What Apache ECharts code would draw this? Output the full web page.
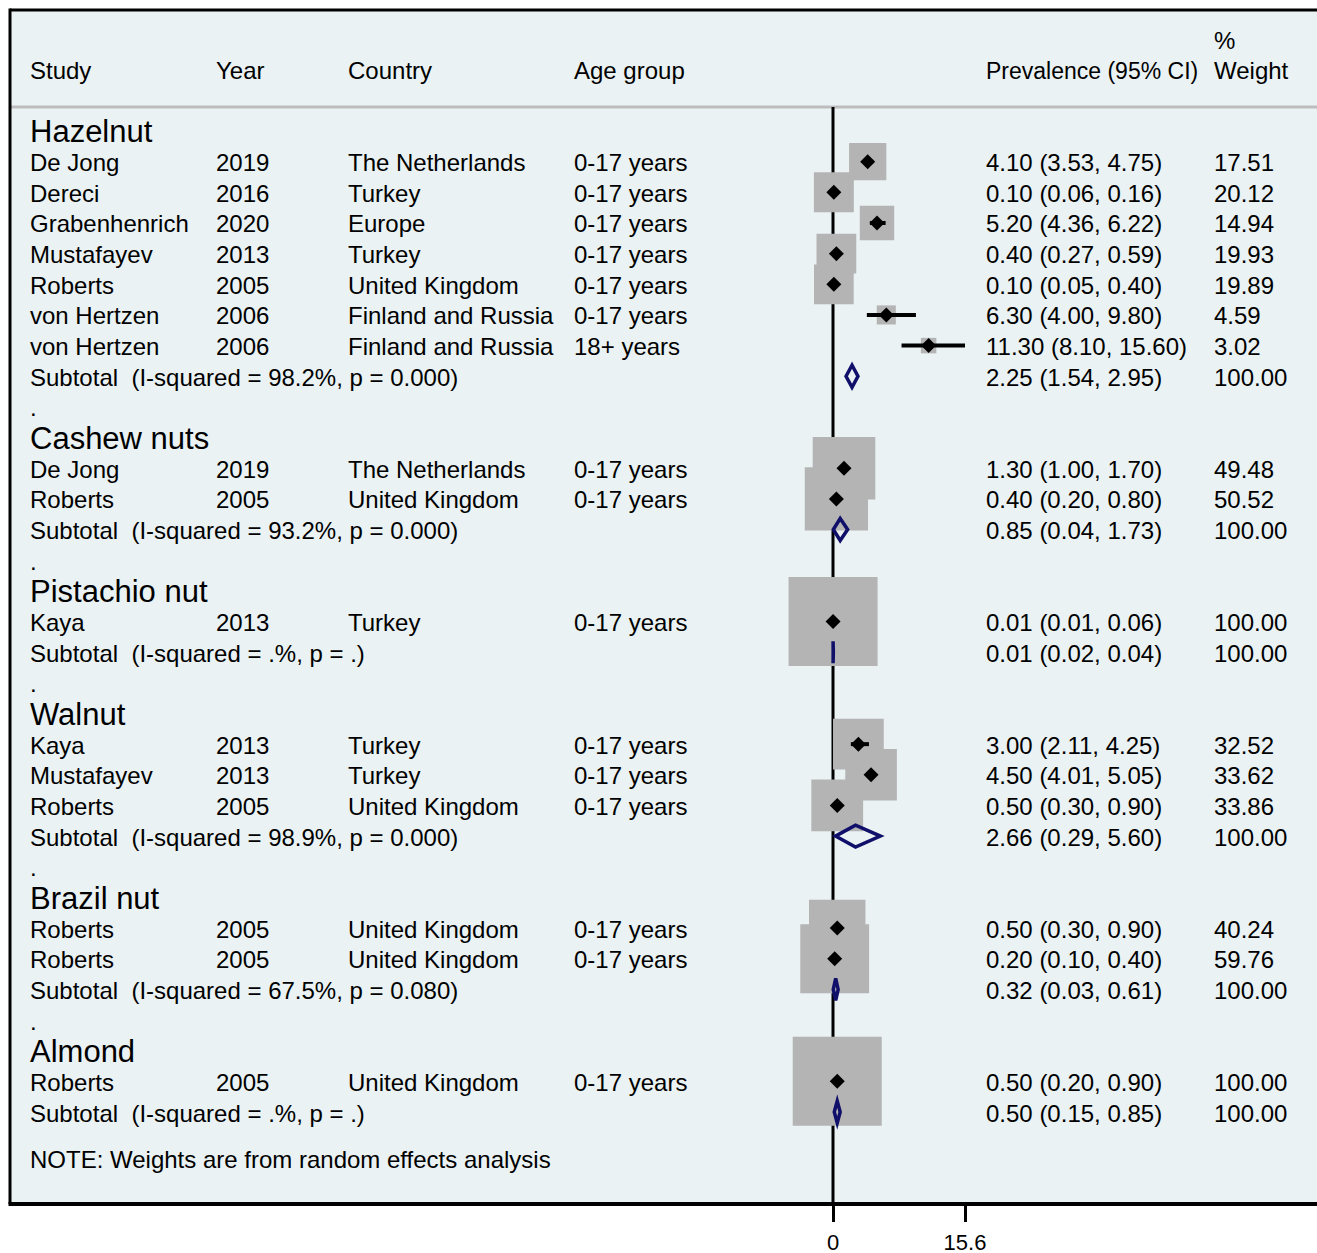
<!DOCTYPE html>
<html><head><meta charset="utf-8">
<script src="https://cdn.jsdelivr.net/npm/echarts@6/dist/echarts.min.js"></script>
<style>html,body{margin:0;padding:0;background:#fff}#chart{width:1317px;height:1253px}</style>
</head><body><div id="chart"></div>
<script>
// ---------- data ----------
const groupNames = ['Hazelnut', 'Cashew nuts', 'Pistachio nut', 'Walnut', 'Brazil nut', 'Almond'];
const studyNames = ['De Jong', 'Dereci', 'Grabenhenrich', 'Mustafayev', 'Roberts', 'von Hertzen', 'von Hertzen',
  'De Jong', 'Roberts', 'Kaya', 'Kaya', 'Mustafayev', 'Roberts', 'Roberts', 'Roberts', 'Roberts'];
const studyGroup = [0, 0, 0, 0, 0, 0, 0, 1, 1, 2, 3, 3, 3, 4, 4, 5];
const studyYears = ['2019', '2016', '2020', '2013', '2005', '2006', '2006', '2019', '2005', '2013', '2013', '2013', '2005', '2005', '2005', '2005'];
const studyCountries = ['The Netherlands', 'Turkey', 'Europe', 'Turkey', 'United Kingdom', 'Finland and Russia', 'Finland and Russia',
  'The Netherlands', 'United Kingdom', 'Turkey', 'Turkey', 'Turkey', 'United Kingdom', 'United Kingdom', 'United Kingdom', 'United Kingdom'];
const studyAges = ['0-17 years', '0-17 years', '0-17 years', '0-17 years', '0-17 years', '0-17 years', '18+ years',
  '0-17 years', '0-17 years', '0-17 years', '0-17 years', '0-17 years', '0-17 years', '0-17 years', '0-17 years', '0-17 years'];
const estimates = [4.10, 0.10, 5.20, 0.40, 0.10, 6.30, 11.30, 1.30, 0.40, 0.01, 3.00, 4.50, 0.50, 0.50, 0.20, 0.50];
const lowerCI = [3.53, 0.06, 4.36, 0.27, 0.05, 4.00, 8.10, 1.00, 0.20, 0.01, 2.11, 4.01, 0.30, 0.30, 0.10, 0.20];
const upperCI = [4.75, 0.16, 6.22, 0.59, 0.40, 9.80, 15.60, 1.70, 0.80, 0.06, 4.25, 5.05, 0.90, 0.90, 0.40, 0.90];
const weights = [17.51, 20.12, 14.94, 19.93, 19.89, 4.59, 3.02, 49.48, 50.52, 100.00, 32.52, 33.62, 33.86, 40.24, 59.76, 100.00];

const subEst = [2.25, 0.85, 0.01, 2.66, 0.32, 0.50];
const subLower = [1.54, 0.04, 0.02, 0.29, 0.03, 0.15];
const subUpper = [2.95, 1.73, 0.04, 5.60, 0.61, 0.85];
const subISquared = ['98.2%', '93.2%', '.%', '98.9%', '67.5%', '.%'];
const subP = ['0.000', '0.000', '.', '0.000', '0.080', '.'];
const subWeights = ['100.00', '100.00', '100.00', '100.00', '100.00', '100.00'];

const headerLabels = ['Study', 'Year', 'Country', 'Age group', 'Prevalence (95% CI)', 'Weight'];
const noteText = 'NOTE: Weights are from random effects analysis';
const xTickValues = [0, 15.6];

// ---------- layout (rows) ----------
const studyRows = [], subRows = [], headRows = [], dotRows = [];
let r = 0;
groupNames.forEach((g, gi) => {
  headRows.push(r); r++;
  studyGroup.forEach((sg, i) => { if (sg === gi) { studyRows[i] = r; r++; } });
  subRows.push(r); r++;
  if (gi < groupNames.length - 1) { dotRows.push(r); r++; }
});
const noteRow = r + 0.5;

const COLX = [30, 216, 348, 574, 986, 1214];
const FONT = '"Liberation Sans", Arial, Helvetica, sans-serif';
const FS = 24, FS_GROUP = 31;
const fmt = v => v.toFixed(2);

const textItems = [];
headerLabels.forEach((t, c) => textItems.push({ row: -2, x: COLX[c], text: t, size: c === 4 ? 23 : FS }));
textItems.push({ row: -3, x: COLX[5], text: '%', size: FS });
groupNames.forEach((g, gi) => textItems.push({ row: headRows[gi], x: COLX[0], text: g, size: FS_GROUP }));
studyNames.forEach((s, i) => {
  const row = studyRows[i];
  textItems.push({ row, x: COLX[0], text: s, size: FS });
  textItems.push({ row, x: COLX[1], text: studyYears[i], size: FS });
  textItems.push({ row, x: COLX[2], text: studyCountries[i], size: FS });
  textItems.push({ row, x: COLX[3], text: studyAges[i], size: FS });
  textItems.push({ row, x: COLX[4], text: fmt(estimates[i]) + ' (' + fmt(lowerCI[i]) + ', ' + fmt(upperCI[i]) + ')', size: FS });
  textItems.push({ row, x: COLX[5], text: fmt(weights[i]), size: FS });
});
groupNames.forEach((g, gi) => {
  const row = subRows[gi];
  textItems.push({ row, x: COLX[0], text: 'Subtotal\u00a0 (I-squared = ' + subISquared[gi] + ', p = ' + subP[gi] + ')', size: FS });
  textItems.push({ row, x: COLX[4], text: fmt(subEst[gi]) + ' (' + fmt(subLower[gi]) + ', ' + fmt(subUpper[gi]) + ')', size: FS });
  textItems.push({ row, x: COLX[5], text: subWeights[gi], size: FS });
});
dotRows.forEach(row => textItems.push({ row, x: COLX[0], text: '.', size: FS }));
textItems.push({ row: noteRow, x: COLX[0], text: noteText, size: FS });

// ---------- chart ----------
const chart = echarts.init(document.getElementById('chart'), null, { renderer: 'svg' });
const BG = '#eaf2f3';
const option = {
  animation: false,
  backgroundColor: '#ffffff',
  graphic: [
    { type: 'rect', shape: { x: 10, y: 10, width: 1330, height: 1194 }, style: { fill: BG }, z: -10, silent: true },
    { type: 'line', shape: { x1: 10, y1: 107, x2: 1340, y2: 107 }, style: { stroke: '#bdbdbd', lineWidth: 3 }, z: -5, silent: true },
    { type: 'line', shape: { x1: 10, y1: 10, x2: 1340, y2: 10 }, style: { stroke: '#000', lineWidth: 3 }, z: -5, silent: true },
    { type: 'line', shape: { x1: 10, y1: 8.5, x2: 10, y2: 1204 }, style: { stroke: '#000', lineWidth: 3 }, z: -5, silent: true },
    { type: 'line', shape: { x1: 8.5, y1: 1204, x2: 1340, y2: 1204 }, style: { stroke: '#000', lineWidth: 4 }, z: -5, silent: true }
  ],
  grid: { left: 833, width: 132, top: 100.34, height: 1103.66, containLabel: false },
  xAxis: {
    type: 'value', min: 0, max: 15.6, interval: 15.6, position: 'bottom',
    axisLine: { show: true, onZero: false, lineStyle: { color: '#000', width: 4 } },
    axisTick: { show: true, length: 18, lineStyle: { color: '#000', width: 3 } },
    axisLabel: { show: true, margin: 27, color: '#000', fontSize: 22, fontFamily: FONT,
      formatter: v => (Math.abs(v) < 1e-9 ? '0' : String(Math.round(v * 10) / 10)) },
    splitLine: { show: false }
  },
  yAxis: { type: 'value', inverse: true, min: -1, max: 35, show: false, splitLine: { show: false },
    axisLine: { onZero: false } },
  series: [
    { // reference line at 0
      type: 'custom', z: 1, clip: false, silent: true,
      data: [[0, 35]],
      renderItem: (params, api) => {
        const p1 = api.coord([0, -0.78]);
        const p2 = api.coord([0, 35]);
        return { type: 'line', shape: { x1: p1[0], y1: p1[1], x2: p2[0], y2: p2[1] }, style: { stroke: '#000', lineWidth: 3 } };
      }
    },
    { // weight boxes
      type: 'scatter', z: 2, clip: false, silent: true,
      symbol: 'rect',
      symbolSize: v => 8.9 * Math.sqrt(v[2]),
      itemStyle: { color: '#b4b4b4', opacity: 1 },
      data: estimates.map((e, i) => [e, studyRows[i], weights[i]])
    },
    { // confidence intervals
      type: 'custom', z: 3, clip: false, silent: true,
      data: estimates.map((e, i) => [lowerCI[i], upperCI[i], studyRows[i]]),
      renderItem: (params, api) => {
        const a = api.coord([api.value(0), api.value(2)]);
        const b = api.coord([api.value(1), api.value(2)]);
        return { type: 'line', shape: { x1: a[0], y1: a[1], x2: b[0], y2: b[1] }, style: { stroke: '#000', lineWidth: 4 } };
      }
    },
    { // point estimates
      type: 'scatter', z: 4, clip: false, silent: true,
      symbol: 'diamond', symbolSize: 15,
      itemStyle: { color: '#000', opacity: 1 },
      data: estimates.map((e, i) => [e, studyRows[i]])
    },
    { // subtotal diamonds
      type: 'custom', z: 5, clip: false, silent: true,
      data: subEst.map((e, gi) => [subLower[gi], e, subUpper[gi], subRows[gi]]),
      renderItem: (params, api) => {
        const row = api.value(3);
        const lo = api.coord([api.value(0), row]);
        const mid = api.coord([api.value(1), row]);
        const hi = api.coord([api.value(2), row]);
        const h = 11;
        return {
          type: 'polygon',
          shape: { points: [[lo[0], lo[1]], [mid[0], mid[1] - h], [hi[0], hi[1]], [mid[0], mid[1] + h]] },
          style: { fill: 'none', stroke: '#10106b', lineWidth: 3.5, lineJoin: 'miter' }
        };
      }
    },
    { // text columns
      type: 'custom', z: 6, clip: false, silent: true,
      data: textItems.map(t => [0, t.row]),
      renderItem: (params, api) => {
        const t = textItems[params.dataIndex];
        const p = api.coord([0, t.row]);
        return {
          type: 'text', x: t.x, y: p[1] + 1,
          style: { text: t.text, fill: '#000', fontSize: t.size, fontFamily: FONT, align: 'left', verticalAlign: 'middle' }
        };
      }
    }
  ]
};
chart.setOption(option);
</script>
</body></html>
